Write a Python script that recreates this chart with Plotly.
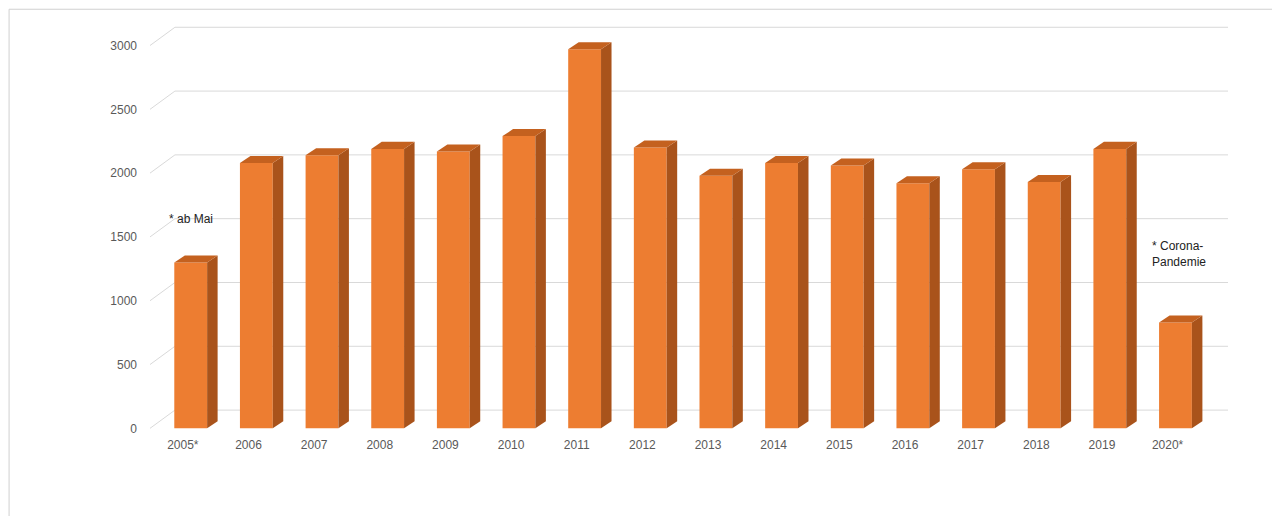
import plotly.graph_objects as go

years = ["2005*", "2006", "2007", "2008", "2009", "2010", "2011", "2012",
         "2013", "2014", "2015", "2016", "2017", "2018", "2019", "2020*"]
values = [1300, 2080, 2140, 2190, 2170, 2290, 2970, 2200,
          1980, 2080, 2060, 1920, 2030, 1930, 2190, 830]
y_ticks = [0, 500, 1000, 1500, 2000, 2500, 3000]

front = "#ED7D31"
side = "#A9531B"
top = "#C4611F"
half = 0.25   # half bar width in category units
dx = 0.16     # depth offset along x
dy = 55       # depth offset along y (value units)
xpos = list(range(len(years)))

L, R, T, B = 142, 60, 12, 88
pw, ph = 1280 - L - R, 516 - T - B

fig = go.Figure()

# back wall gridlines, kept below the bars
x_left, x_right = -0.62, 15.8
shapes = []
for v in y_ticks:
    shapes.append(dict(type="path", layer="below", xref="x", yref="y",
                       path=f"M {x_left},{v} L {x_left + 0.38},{v + 2.6 * dy} L {x_right},{v + 2.6 * dy}",
                       line=dict(color="#D9D9D9", width=1)))
shapes.append(dict(type="rect", xref="paper", yref="paper",
                   x0=-L / pw + 0.001, x1=1 + R / pw - 0.001,
                   y0=-B / ph + 0.003, y1=1 + T / ph - 0.003,
                   line=dict(color="#D0D0D0", width=1)))

# front faces
fig.add_trace(go.Bar(x=xpos, y=values, width=2 * half, marker_color=front,
                     marker_line_width=0, showlegend=False))

# side and top faces
for x, v in zip(xpos, values):
    r = x + half
    fig.add_trace(go.Scatter(
        x=[r, r + dx, r + dx, r, r], y=[0, dy, v + dy, v, 0],
        fill="toself", fillcolor=side, mode="lines", line=dict(width=0),
        hoverinfo="skip", showlegend=False))
    l = x - half
    fig.add_trace(go.Scatter(
        x=[l, r, r + dx, l + dx, l], y=[v, v, v + dy, v + dy, v],
        fill="toself", fillcolor=top, mode="lines", line=dict(width=0),
        hoverinfo="skip", showlegend=False))

fig.add_annotation(x=0, y=1640, text="* ab Mai", showarrow=False,
                   xanchor="center", font=dict(size=12, color="#222"))
fig.add_annotation(x=15.05, y=1370, text="* Corona-<br>Pandemie", showarrow=False,
                   xanchor="center", align="left", font=dict(size=12, color="#222"))

fig.update_layout(
    width=1280, height=516,
    margin=dict(l=L, r=R, t=T, b=B),
    plot_bgcolor="white", paper_bgcolor="white",
    font=dict(family="Liberation Sans, Arial", size=12, color="#595959"),
    xaxis=dict(range=[x_left, x_right], tickvals=[x - 0.12 for x in xpos],
               ticktext=years, showgrid=False, zeroline=False, ticks="",
               tickfont=dict(size=12, color="#595959")),
    yaxis=dict(range=[-60, 3200], tickvals=y_ticks, showgrid=False,
               zeroline=False, ticks="", ticklabelstandoff=12,
               tickfont=dict(size=12, color="#595959")),
    shapes=shapes,
)

fig.write_html("out.html")
